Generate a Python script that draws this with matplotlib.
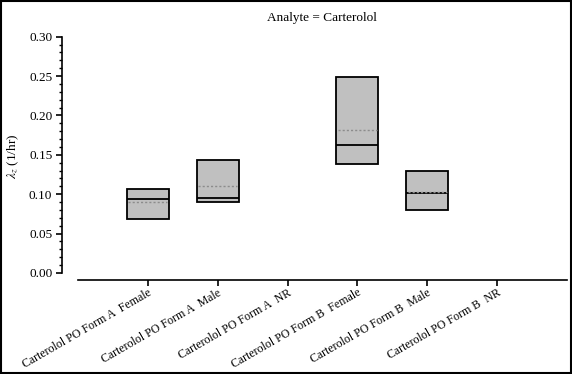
import numpy as np
import matplotlib
matplotlib.use("Agg")
import matplotlib.pyplot as plt
from matplotlib.patches import Rectangle
from matplotlib.ticker import MultipleLocator

plt.rcParams["font.family"] = ["Liberation Serif", "DejaVu Serif"]
plt.rcParams["mathtext.fontset"] = "stix"

categories = [
    "Carterolol PO Form A  Female",
    "Carterolol PO Form A  Male",
    "Carterolol PO Form A  NR",
    "Carterolol PO Form B  Female",
    "Carterolol PO Form B  Male",
    "Carterolol PO Form B  NR",
]
q1 = [0.069, 0.0895, np.nan, 0.138, 0.0805, np.nan]
q3 = [0.107, 0.144, np.nan, 0.249, 0.129, np.nan]
medians = [0.094, 0.095, np.nan, 0.162, 0.1015, np.nan]
means = [0.090, 0.111, np.nan, 0.182, 0.103, np.nan]

fig = plt.figure(figsize=(5.72, 3.74), dpi=100)
ax = fig.add_axes([78 / 572, 94 / 374, 489 / 572, (337.3 - 94) / 374])

pos = np.arange(len(categories))
q1a = np.array(q1)
q3a = np.array(q3)
ax.bar(pos, q3a - q1a, bottom=q1a, width=0.6, color="#c0c0c0",
       edgecolor="black", linewidth=1.3, zorder=2)
ax.hlines(medians, pos - 0.3, pos + 0.3, color="black", linewidth=1.3, zorder=3)
ax.hlines(means, pos - 0.28, pos + 0.28, color="#8c8c8c", linewidth=1.0,
          linestyles=(0, (1.5, 1.5)), zorder=3)

ax.set_xlim(-1, 6)
ax.set_ylim(-0.0089, 0.30)
ax.set_xticks(pos)
ax.set_xticklabels(categories, rotation=30, ha="right", rotation_mode="anchor",
                   fontsize=8.6)
ax.yaxis.set_major_locator(MultipleLocator(0.05))
ax.yaxis.set_minor_locator(MultipleLocator(0.01))
ax.yaxis.set_major_formatter(matplotlib.ticker.FormatStrFormatter("%.2f"))
ax.tick_params(axis="y", which="major", length=4, width=1.2, labelsize=9.5, pad=3)
ax.tick_params(axis="y", which="minor", length=2.5, width=1.0)
ax.tick_params(axis="x", which="major", length=4, width=1.2, pad=1)

for s in ["top", "right"]:
    ax.spines[s].set_visible(False)
ax.spines["left"].set_position(("outward", 16 * 0.72))
ax.spines["left"].set_bounds(0, 0.30)
ax.spines["left"].set_linewidth(1.2)
ax.spines["bottom"].set_linewidth(1.2)

ax.set_ylabel(r"$\lambda_z$ (1/hr)", fontsize=9.5)
ax.yaxis.set_label_coords((21 - 78) / 489, 0.51)

fig.text(322 / 572, 1 - 18 / 374, "Analyte = Carterolol", ha="center",
         va="center", fontsize=9.5)

fig.patches.append(Rectangle((0.002, 0.003), 0.996, 0.994,
                             transform=fig.transFigure, fill=False,
                             edgecolor="black", linewidth=1.5))

fig.savefig("out.png", dpi=100)
